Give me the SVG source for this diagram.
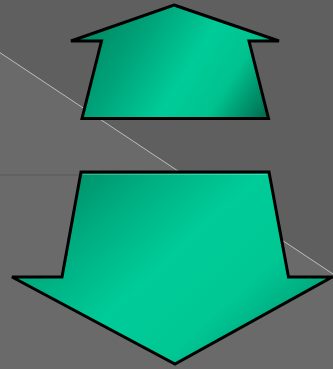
<svg xmlns="http://www.w3.org/2000/svg" width="333" height="369" viewBox="0 0 333 369">
<defs>
<linearGradient id="gUp" gradientUnits="userSpaceOnUse" x1="105" y1="25" x2="265" y2="125">
<stop offset="0" stop-color="#008f68"/>
<stop offset="0.2" stop-color="#00a47a"/>
<stop offset="0.5" stop-color="#00cc99"/>
<stop offset="0.72" stop-color="#00c28f"/>
<stop offset="1" stop-color="#00664b"/>
</linearGradient>
<linearGradient id="gDown" gradientUnits="userSpaceOnUse" x1="80" y1="165" x2="255" y2="355">
<stop offset="0" stop-color="#008f68"/>
<stop offset="0.2" stop-color="#00ab7f"/>
<stop offset="0.5" stop-color="#00cc99"/>
<stop offset="0.78" stop-color="#00c794"/>
<stop offset="1" stop-color="#00a57b"/>
</linearGradient>
<style>
.arrow{stroke:#000;stroke-width:3;stroke-linejoin:miter}
</style>
</defs>
<rect x="0" y="0" width="333" height="369" fill="#6a6a6a"/>
<polygon points="0,0 333,0 333,274 0,52.7" fill="#5f5f5f"/>
<line x1="0" y1="175" x2="82" y2="175" stroke="#585858" stroke-width="1"/>
<line x1="0" y1="52.7" x2="333" y2="274" stroke="#bdbdbd" stroke-width="1"/>
<g id="arrow-up">
<polygon class="arrow" fill="url(#gUp)" points="174,5 279,41 249,41 268.5,118.5 82,118.5 101.5,41 71,41"/>
</g>
<g id="arrow-down">
<polygon class="arrow" fill="url(#gDown)" points="81,172 269,172 288.5,277 332,277 175,364 12,277 62,277"/>
<line x1="83" y1="174.5" x2="267" y2="174.5" stroke="#ffffff" stroke-opacity="0.25" stroke-width="1"/>
</g>
</svg>
